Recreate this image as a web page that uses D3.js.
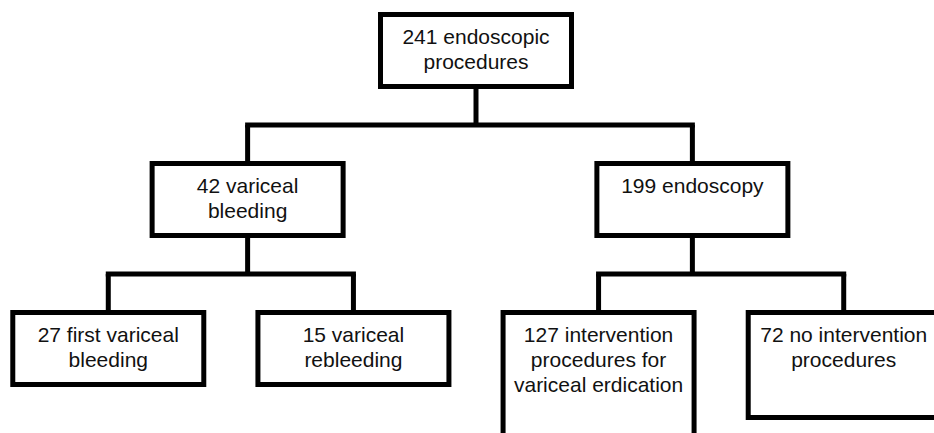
<!DOCTYPE html>
<html>
<head>
<meta charset="utf-8">
<script src="https://cdn.jsdelivr.net/npm/d3@7"></script>
<style>
  body { margin: 0; background: #fff; }
  svg { display: block; }
</style>
</head>
<body>
<div id="chart"></div>
<script>
// Flowchart data: node ids, parent links and the label lines shown in each box
const nodeIds     = ["root", "bleed", "endo", "first", "rebleed", "interv", "nointerv"];
const nodeParents = [null, "root", "root", "bleed", "bleed", "endo", "endo"];
const nodeLabels  = [
    ["241 endoscopic", "procedures"],
    ["42 variceal", "bleeding"],
    ["199 endoscopy"],
    ["27 first variceal", "bleeding"],
    ["15 variceal", "rebleeding"],
    ["127 intervention", "procedures for", "variceal erdication"],
    ["72 no intervention", "procedures"]
];

const width = 934, height = 433;
const boxW = 191, boxH = 72, stroke = 5;
const fontSize = 21, lineH = 25;

const svg = d3.select("#chart")
              .append("svg")
              .attr("width", width)
              .attr("height", height);

const table = nodeIds.map((id, i) => ({id, parent: nodeParents[i], lines: nodeLabels[i]}));
const root = d3.stratify()
               .id(d => d.id)
               .parentId(d => d.parent)(table);

// one x scale per depth
const levelRange   = [[9, 943], [3, 937], [9, 943]];
const levelPadding = [0.5, 0.55, 0.405];
const byDepth = d3.group(root.descendants(), d => d.depth);
const xScales = new Map();
byDepth.forEach((nodes, depth) => {
    xScales.set(depth, d3.scalePoint()
                         .domain(nodes.map(n => n.id))
                         .range(levelRange[depth])
                         .padding(levelPadding[depth]));
});

const yScale = d3.scalePoint()
                 .domain([0, 1, 2])
                 .range([14.5, 312.5]);

// box heights: the two right-hand leaves are drawn taller
const tallBox = {interv: 200, nointerv: 105};

root.each(n => {
    n.x = xScales.get(n.depth)(n.id);
    n.y = yScale(n.depth);
    n.h = tallBox[n.id] || boxH;
});

const g = svg.append("g");

// connectors
root.descendants().filter(n => n.children).forEach(n => {
    const kids = n.children;
    const midY = (n.y + n.h + stroke / 2 + kids[0].y - stroke / 2) / 2;

    g.append("line")
     .attr("x1", n.x).attr("x2", n.x)
     .attr("y1", n.y + n.h).attr("y2", midY)
     .attr("stroke", "#000").attr("stroke-width", stroke);

    g.append("line")
     .attr("x1", d3.min(kids, k => k.x)).attr("x2", d3.max(kids, k => k.x))
     .attr("y1", midY).attr("y2", midY)
     .attr("stroke", "#000").attr("stroke-width", stroke)
     .attr("stroke-linecap", "square");

    kids.forEach(k => {
        g.append("line")
         .attr("x1", k.x).attr("x2", k.x)
         .attr("y1", midY).attr("y2", k.y)
         .attr("stroke", "#000").attr("stroke-width", stroke);
    });
});

// boxes
const boxes = g.selectAll("g.node")
               .data(root.descendants())
               .enter()
               .append("g")
               .attr("class", "node")
               .attr("transform", d => `translate(${d.x},${d.y})`);

boxes.append("rect")
     .attr("x", -boxW / 2)
     .attr("y", 0)
     .attr("width", boxW)
     .attr("height", d => d.h)
     .attr("fill", "#fff")
     .attr("stroke", "#000")
     .attr("stroke-width", stroke);

boxes.each(function(d) {
    const t = d3.select(this).append("text")
                .attr("text-anchor", "middle")
                .attr("font-family", "Arial, 'Liberation Sans', sans-serif")
                .attr("font-size", fontSize)
                .attr("fill", "#111");
    d.data.lines.forEach((line, i) => {
        t.append("tspan")
         .attr("x", 0)
         .attr("y", 29.5 + i * lineH)
         .text(line);
    });
});
</script>
</body>
</html>
